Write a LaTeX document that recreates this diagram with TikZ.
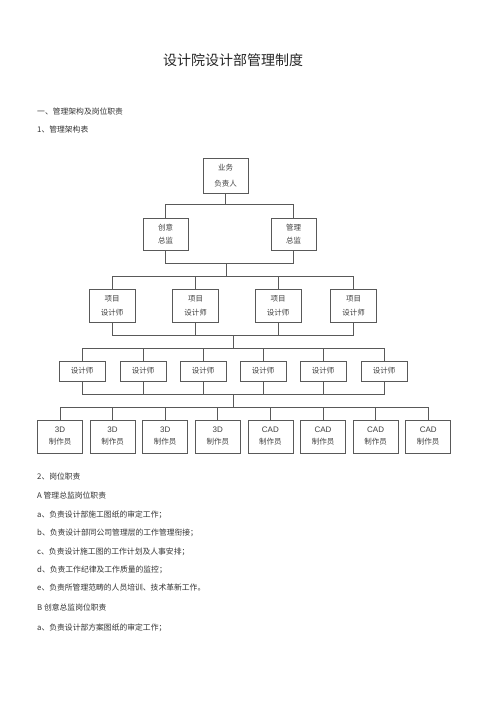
\documentclass[tikz,border=0pt]{standalone}
\usepackage{fontspec}
\setmainfont{Noto Sans CJK SC}
\newfontfamily\latinsans{Liberation Sans}
\begin{document}
\begin{tikzpicture}[x=1pt,y=-1pt,
  box/.style={draw=black!65, line width=0.7pt, inner sep=0pt, align=center, text=black!75},
  topbox/.style={box, minimum width=45pt, minimum height=35pt, font=\fontsize{7.5}{16}\selectfont},
  dirbox/.style={box, minimum width=45pt, minimum height=32pt, font=\fontsize{7.5}{13}\selectfont},
  projbox/.style={box, minimum width=46pt, minimum height=33pt, font=\fontsize{7.5}{14}\selectfont},
  desbox/.style={box, minimum width=46pt, minimum height=20pt, font=\fontsize{7.5}{9}\selectfont},
  prodbox/.style={box, minimum width=45pt, minimum height=33pt, font=\fontsize{7.5}{12}\selectfont},
  wire/.style={draw=black!65, line width=0.7pt},
  txt/.style={anchor=west, inner sep=0pt, text=black!80, font=\fontsize{7.8}{9}\selectfont},
  title/.style={inner sep=0pt, text=black!85, font=\fontsize{14}{16}\selectfont}]
\useasboundingbox (0,0) rectangle (500,708);
\fill[white] (0,0) rectangle (500,708);

% texts
\node[title] (ttl) at (233,60) {设计院设计部管理制度};
\node[txt] (s1) at (37,112) {一、管理架构及岗位职责};
\node[txt] (s11) at (37,130) {1、管理架构表};
\node[txt] (s2) at (37,477) {2、岗位职责};
\node[txt] (sa) at (37,496) {A 管理总监岗位职责};
\node[txt] (la) at (37,515) {a、负责设计部施工图纸的审定工作；};
\node[txt] (lb) at (37,533) {b、负责设计部同公司管理层的工作管理衔接；};
\node[txt] (lc) at (37,552) {c、负责设计施工图的工作计划及人事安排；};
\node[txt] (ld) at (37,570) {d、负责工作纪律及工作质量的监控；};
\node[txt] (le) at (37,588) {e、负责所管理范畴的人员培训、技术革新工作。};
\node[txt] (sb) at (37,608) {B 创意总监岗位职责};
\node[txt] (lba) at (37,628) {a、负责设计部方案图纸的审定工作；};

% boxes
\node[topbox] (boss) at (225.5,175.5) {业务\\负责人};
\node[dirbox] (cd) at (165.5,234) {创意\\总监};
\node[dirbox] (md) at (293.5,234) {管理\\总监};

\foreach \i/\x in {1/112,2/195.5,3/278,4/353.5}
  \node[projbox] (p\i) at (\x,305.5) {项目\\设计师};

\foreach \i/\x in {1/82,2/143,3/203,4/263,5/323,6/384}
  \node[desbox] (d\i) at (\x,371) {设计师};

\foreach \i/\t in {1/3D,2/3D,3/3D,4/3D,5/CAD,6/CAD,7/CAD,8/CAD}
  \node[prodbox] (m\i) at ({60+52.6*(\i-1)},436.5) {{\latinsans\fontsize{8}{9}\selectfont \t}\\制作员};

% junctions
\coordinate (j1) at (225.5,204);
\coordinate (j2) at (226,263);
\coordinate (j3) at (226,276);
\coordinate (j4) at (233,335);
\coordinate (j5) at (233,348);
\coordinate (j6) at (233,394);
\coordinate (j7) at (233,407);

% connectors
\draw[wire] (boss.south) -- (j1);
\draw[wire] (j1) -| (cd.north);
\draw[wire] (j1) -| (md.north);
\draw[wire] (cd.south) |- (j2);
\draw[wire] (md.south) |- (j2);
\draw[wire] (j2) -- (j3);
\foreach \i in {1,...,4} {
  \draw[wire] (j3) -| (p\i.north);
  \draw[wire] (p\i.south) |- (j4);
}
\draw[wire] (j4) -- (j5);
\foreach \i in {1,...,6} {
  \draw[wire] (j5) -| (d\i.north);
  \draw[wire] (d\i.south) |- (j6);
}
\draw[wire] (j6) -- (j7);
\foreach \i in {1,...,8}
  \draw[wire] (j7) -| (m\i.north);
\end{tikzpicture}
\end{document}
